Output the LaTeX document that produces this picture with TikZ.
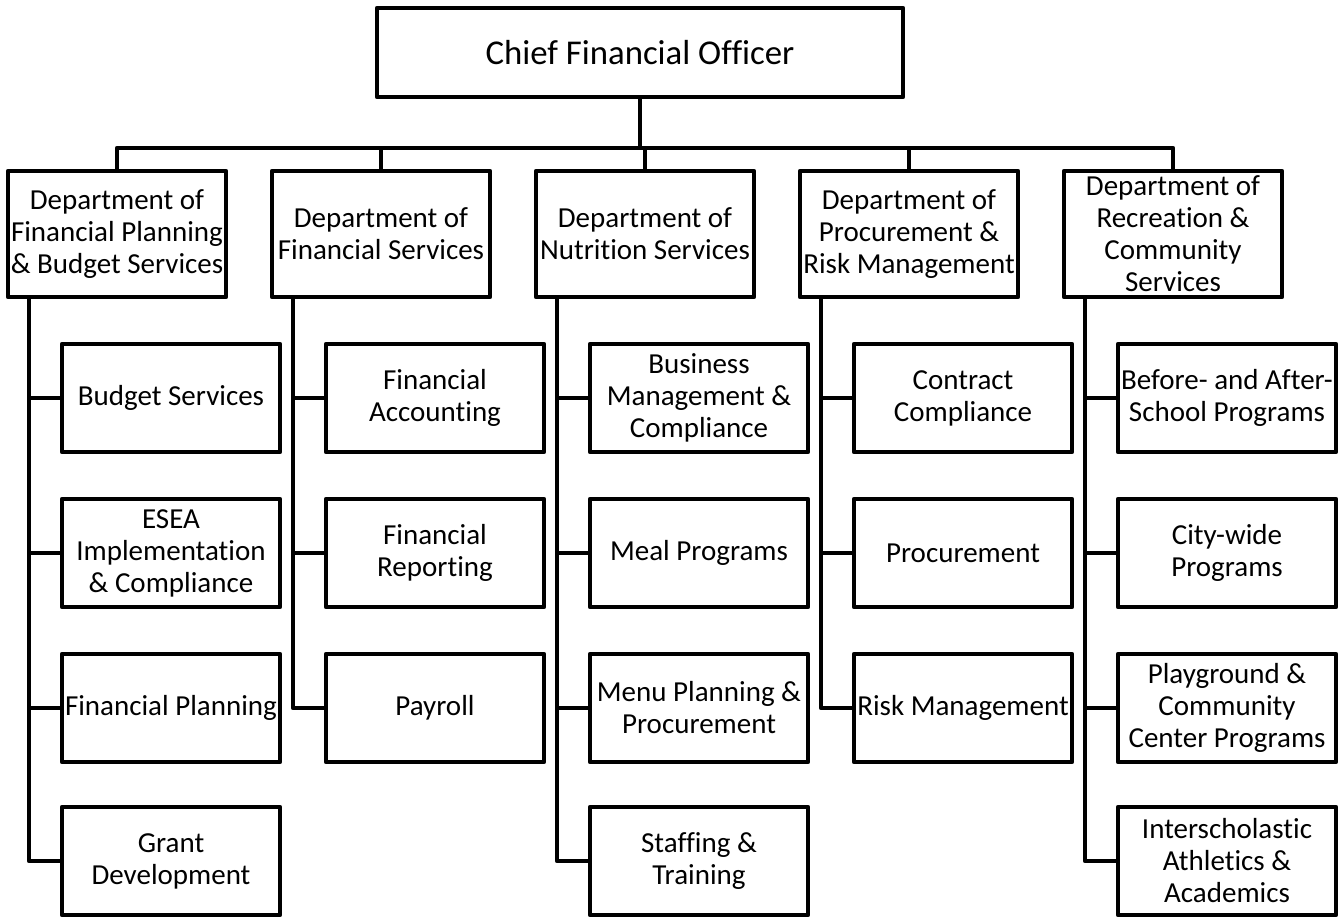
\documentclass[tikz,border=0pt]{standalone}
\usepackage{fontspec}
\setmainfont[Ligatures=NoCommon]{Carlito}
\usetikzlibrary{positioning}

\begin{document}
\begin{tikzpicture}[x=0.5pt,y=-0.5pt,line width=2.25pt,line join=round,
  box/.style={draw,align=center,inner sep=0pt,font=\fontsize{14.5}{16}\selectfont},
  topbox/.style={box,minimum width=263pt,minimum height=44.5pt,font=\fontsize{17.4}{20}\selectfont},
  deptbox/.style={box,minimum width=109pt,minimum height=63pt},
  unitbox/.style={box,minimum width=109pt,minimum height=54pt}]
\useasboundingbox (0,0) rectangle (1342,918);

% top
\node[topbox] (cfo) at (640,52.5) {Chief Financial Officer};
\coordinate (bus) at (640,148);

% departments
\node[deptbox] (d1) at (117,234) {Department of\\Financial Planning\\\& Budget Services};
\node[deptbox] (d2) at (381,234) {Department of\\Financial Services};
\node[deptbox] (d3) at (645,234) {Department of\\Nutrition Services};
\node[deptbox] (d4) at (909,234) {Department of\\Procurement \&\\Risk Management};
\node[deptbox] (d5) at (1173,234) {Department of\\Recreation \&\\Community\\Services};

% units
\node[unitbox] (u11) at (171,398) {Budget Services};
\node[unitbox] (u12) at (171,553) {ESEA\\Implementation\\\& Compliance};
\node[unitbox] (u13) at (171,708) {Financial Planning};
\node[unitbox] (u14) at (171,861) {Grant\\Development};

\node[unitbox] (u21) at (435,398) {Financial\\Accounting};
\node[unitbox] (u22) at (435,553) {Financial\\Reporting};
\node[unitbox] (u23) at (435,708) {Payroll};

\node[unitbox] (u31) at (699,398) {Business\\Management \&\\Compliance};
\node[unitbox] (u32) at (699,553) {Meal Programs};
\node[unitbox] (u33) at (699,708) {Menu Planning \&\\Procurement};
\node[unitbox] (u34) at (699,861) {Staffing \&\\Training};

\node[unitbox] (u41) at (963,398) {Contract\\Compliance};
\node[unitbox] (u42) at (963,553) {Procurement};
\node[unitbox] (u43) at (963,708) {Risk Management};

\node[unitbox] (u51) at (1227,398) {Before- and After-\\School Programs};
\node[unitbox] (u52) at (1227,553) {City-wide\\Programs};
\node[unitbox] (u53) at (1227,708) {Playground \&\\Community\\Center Programs};
\node[unitbox] (u54) at (1227,861) {Interscholastic\\Athletics \&\\Academics};

% spines
\coordinate (s1) at (29,300);
\coordinate (s2) at (293,300);
\coordinate (s3) at (557,300);
\coordinate (s4) at (821,300);
\coordinate (s5) at (1085,300);

% connectors
\draw (cfo.south) -- (bus);
\draw (d1.north) |- (bus) -| (d5.north);
\draw (d2.north) -- (d2.north |- bus);
\draw (d3.north) -- (d3.north |- bus);
\draw (d4.north) -- (d4.north |- bus);

\draw (d1.south -| s1) |- (u14.west);
\draw (d2.south -| s2) |- (u23.west);
\draw (d3.south -| s3) |- (u34.west);
\draw (d4.south -| s4) |- (u43.west);
\draw (d5.south -| s5) |- (u54.west);

\foreach \i in {1,2,3}
  \draw (u1\i.west) -- (u1\i.west -| s1);
\foreach \i in {1,2}
  \draw (u2\i.west) -- (u2\i.west -| s2);
\foreach \i in {1,2,3}
  \draw (u3\i.west) -- (u3\i.west -| s3);
\foreach \i in {1,2}
  \draw (u4\i.west) -- (u4\i.west -| s4);
\foreach \i in {1,2,3}
  \draw (u5\i.west) -- (u5\i.west -| s5);
\end{tikzpicture}
\end{document}
